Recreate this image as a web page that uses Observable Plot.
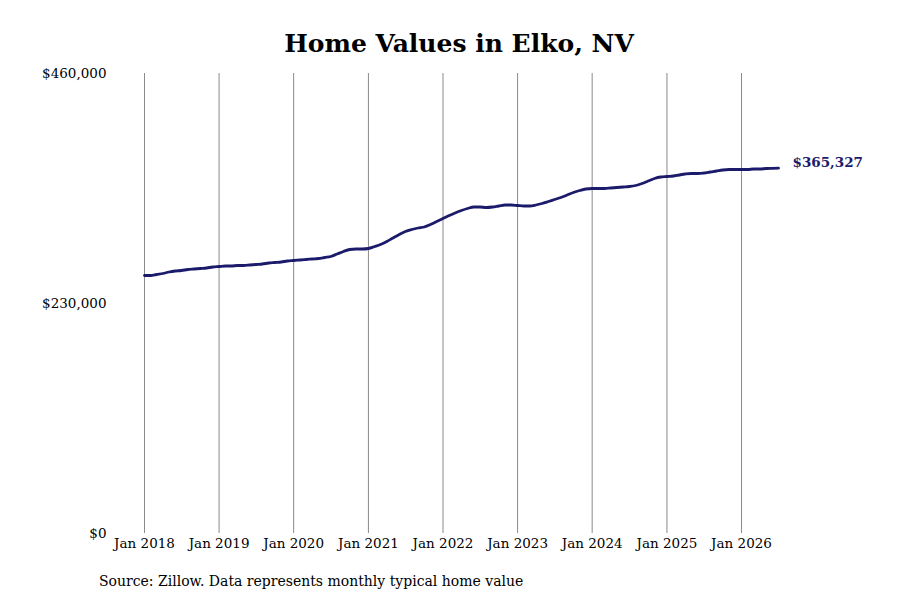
<!DOCTYPE html>
<html>
<head>
<meta charset="utf-8">
<script src="https://cdn.jsdelivr.net/npm/d3@7"></script>
<script src="https://cdn.jsdelivr.net/npm/@observablehq/plot@0.6"></script>
<style>
  body { margin: 0; background: #fff; font-family: "DejaVu Serif", serif; }
  #wrap { width: 900px; height: 600px; position: relative; overflow: hidden; }
  #title { height: 60px; line-height: 88px; text-align: center; font-weight: bold; font-size: 25px; color: #000; padding-left: 18px; box-sizing: border-box; }
  #caption { height: 35px; line-height: 32px; font-size: 14px; padding-left: 99px; color: #000; }
  svg { display: block; }
</style>
</head>
<body>
<div id="wrap">
  <div id="title">Home Values in Elko, NV</div>
  <div id="chart"></div>
  <div id="caption">Source: Zillow. Data represents monthly typical home value</div>
</div>
<script>
// Monthly values (thousands of $), Jan 2018 – Jul 2026
const values2018 = [258, 258, 259, 260, 261.5, 262.5, 263, 264, 264.5, 265, 265.5, 266.5];
const values2019 = [267, 267.5, 267.5, 268, 268, 268.5, 269, 269.5, 270.5, 271, 271.5, 272.5];
const values2020 = [273, 273.5, 274, 274.5, 275, 276, 277, 279.5, 282, 284, 284.5, 284.5];
const values2021 = [285, 287, 289, 292, 295.5, 299, 302, 304, 305.5, 306.5, 309, 312];
const values2022 = [315, 318, 320.5, 323, 325, 326.5, 326.5, 326, 326.5, 327.5, 328.5, 328.5];
const values2023 = [328, 327.5, 327.5, 328.5, 330, 332, 334, 336, 338.5, 341, 343, 344.5];
const values2024 = [345, 345, 345, 345.5, 346, 346.5, 347, 348, 350, 352.5, 355, 356.5];
const values2025 = [357, 357.5, 358.5, 359.5, 360, 360, 360.5, 361.5, 362.5, 363.5, 364, 364];
const values2026 = [364, 364, 364.5, 364.5, 365, 365.2, 365.327];
const yTicks = [0, 230000, 460000];
const xTickYears = [2018, 2019, 2020, 2021, 2022, 2023, 2024, 2025, 2026];
const endLabel = "$365,327";

const allValues = [].concat(values2018, values2019, values2020, values2021, values2022,
  values2023, values2024, values2025, values2026);
const data = allValues.map((v, i) => ({
  date: new Date(Date.UTC(2018, i, 1)),
  value: v * 1000
}));
const last = data[data.length - 1];
const xTicks = xTickYears.map(y => new Date(Date.UTC(y, 0, 1)));
const navy = "#1b1a6b";

const chart = Plot.plot({
  width: 900,
  height: 505,
  marginTop: 13,
  marginBottom: 32,
  marginLeft: 144,
  marginRight: 122,
  style: { fontFamily: "DejaVu Serif, serif", fontSize: "13.5px", color: "#000", background: "#fff" },
  x: {
    type: "utc",
    domain: [new Date(Date.UTC(2018, 0, 1)), last.date],
    ticks: xTicks,
    tickFormat: d => "Jan " + d.getUTCFullYear(),
    tickSize: 0,
    tickPadding: 5,
    label: null
  },
  y: {
    domain: [0, 460000],
    ticks: yTicks,
    tickFormat: d => "$" + d3.format(",")(d),
    tickSize: 0,
    tickPadding: 38,
    label: null
  },
  marks: [
    Plot.ruleX(xTicks, { stroke: "#8a8a8a", strokeWidth: 1, strokeOpacity: 1 }),
    Plot.lineY(data, { x: "date", y: "value", stroke: navy, strokeWidth: 2.8, curve: "monotone-x" }),
    Plot.text([last], {
      x: "date", y: "value", text: () => endLabel,
      textAnchor: "start", dx: 14, dy: -6,
      fill: navy, fontWeight: "bold", fontSize: 13.5
    })
  ]
});
document.getElementById("chart").appendChild(chart);
</script>
</body>
</html>
